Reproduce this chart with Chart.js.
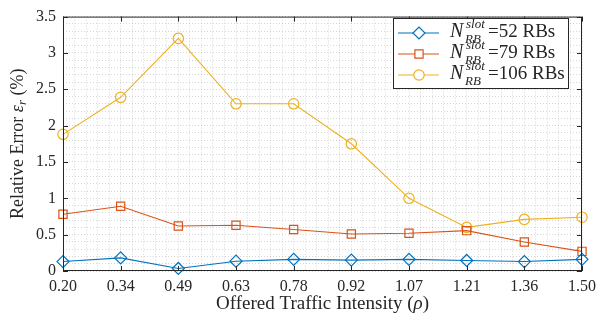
<!DOCTYPE html>
<html>
<head>
<meta charset="utf-8">
<script src="https://cdn.jsdelivr.net/npm/chart.js@4"></script>
<style>
  body { margin: 0; background: #fff; }
  #wrap { width: 610px; height: 323px; }
</style>
</head>
<body>
<div id="wrap"><canvas id="errChart" width="610" height="323"></canvas></div>
<script>
// tick labels for offered traffic intensity (rho)
var rhoLabels = ["0.20", "0.34", "0.49", "0.63", "0.78", "0.92", "1.07", "1.21", "1.36", "1.50"];

// relative error (%) per bandwidth config
var err52 = [0.13, 0.18, 0.035, 0.135, 0.16, 0.15, 0.16, 0.145, 0.13, 0.16];
var err79 = [0.78, 0.89, 0.62, 0.63, 0.57, 0.51, 0.52, 0.555, 0.40, 0.27];
var err106 = [1.88, 2.39, 3.20, 2.30, 2.30, 1.75, 1.00, 0.60, 0.71, 0.74];

var seriesNames = ["52", "79", "106"];
var FONT = "'Liberation Serif', 'DejaVu Serif', serif";
var axisColor = "#262626";

function toPoints(arr) {
  return arr.map(function (v, i) { return { x: i, y: v }; });
}

var blue = "#0072BD", orange = "#D95319", yellow = "#EDB120";

var data = {
  datasets: [
    {
      label: "52",
      data: toPoints(err52),
      borderColor: blue,
      backgroundColor: "rgba(0,0,0,0)",
      pointStyle: "rectRot",
      pointRadius: 6,
      pointBorderWidth: 1.2,
      borderWidth: 1.1,
    },
    {
      label: "79",
      data: toPoints(err79),
      borderColor: orange,
      backgroundColor: "rgba(0,0,0,0)",
      pointStyle: "rect",
      pointRadius: 5.8,
      pointBorderWidth: 1.2,
      borderWidth: 1.1,
    },
    {
      label: "106",
      data: toPoints(err106),
      borderColor: yellow,
      backgroundColor: "rgba(0,0,0,0)",
      pointStyle: "circle",
      pointRadius: 5.2,
      pointBorderWidth: 1.2,
      borderWidth: 1.1,
    },
  ],
};

// frame, inward ticks, axis titles and the legend (needs sub/superscripts)
var decorPlugin = {
  id: "decor",
  afterDatasetsDraw: function (chart) {
    var ctx = chart.ctx, a = chart.chartArea;
    var xs = chart.scales.x, ys = chart.scales.y;
    ctx.save();
    ctx.strokeStyle = axisColor;
    ctx.lineWidth = 1;
    ctx.strokeRect(a.left + 0.5, a.top + 0.5, a.right - a.left - 1, a.bottom - a.top - 1);
    ctx.beginPath();
    for (var i = 0; i < rhoLabels.length; i++) {
      var px = Math.round(xs.getPixelForValue(i)) + 0.5;
      ctx.moveTo(px, a.bottom); ctx.lineTo(px, a.bottom - 5);
      ctx.moveTo(px, a.top); ctx.lineTo(px, a.top + 5);
    }
    for (var v = 0; v <= 3.5; v += 0.5) {
      var py = Math.round(ys.getPixelForValue(v)) + 0.5;
      ctx.moveTo(a.left, py); ctx.lineTo(a.left + 5, py);
      ctx.moveTo(a.right, py); ctx.lineTo(a.right - 5, py);
    }
    ctx.stroke();
    ctx.restore();
  },
  afterDraw: function (chart) {
    var ctx = chart.ctx, a = chart.chartArea;
    ctx.save();
    ctx.fillStyle = "#262626";
    ctx.textBaseline = "alphabetic";

    // x title
    var xparts = [
      { t: "Offered Traffic Intensity (", f: "19px " + FONT },
      { t: "\u03C1", f: "italic 19px " + FONT },
      { t: ")", f: "19px " + FONT },
    ];
    var xw = 0;
    xparts.forEach(function (p) { ctx.font = p.f; p.w = ctx.measureText(p.t).width; xw += p.w; });
    var xx = (a.left + a.right) / 2 - xw / 2;
    ctx.textAlign = "left";
    xparts.forEach(function (p) { ctx.font = p.f; ctx.fillText(p.t, xx, 309); xx += p.w; });

    // y title with subscript
    ctx.translate(23, (a.top + a.bottom) / 2);
    ctx.rotate(-Math.PI / 2);
    var parts = [
      { t: "Relative Error ", f: "18px " + FONT, dy: 0 },
      { t: "\u03B5", f: "italic 18px " + FONT, dy: 0 },
      { t: "r", f: "italic 13px " + FONT, dy: 3 },
      { t: " (%)", f: "18px " + FONT, dy: 0 },
    ];
    var total = 0;
    parts.forEach(function (p) { ctx.font = p.f; p.w = ctx.measureText(p.t).width; total += p.w; });
    var cx = -total / 2;
    parts.forEach(function (p) { ctx.font = p.f; ctx.fillText(p.t, cx, p.dy); cx += p.w; });
    ctx.restore();

    // legend
    ctx.save();
    var bx = 393, by = 18, bw = 176, bh = 71;
    ctx.fillStyle = "#fff";
    ctx.fillRect(bx, by, bw, bh);
    ctx.strokeStyle = axisColor;
    ctx.lineWidth = 1;
    ctx.strokeRect(bx + 0.5, by + 0.5, bw - 1, bh - 1);
    var rows = [33, 54, 75];
    chart.data.datasets.forEach(function (ds, k) {
      var y = rows[k];
      ctx.strokeStyle = ds.borderColor;
      ctx.lineWidth = 1.1;
      ctx.beginPath();
      ctx.moveTo(398, y); ctx.lineTo(439, y);
      ctx.stroke();
      ctx.fillStyle = "#fff";
      ctx.lineWidth = 1.2;
      Chart.helpers.drawPoint(ctx, { pointStyle: ds.pointStyle, radius: ds.pointRadius, borderWidth: 1.2, rotation: 0 }, 419, y);
      ctx.fillStyle = "#262626";
      ctx.textAlign = "left";
      var tx = 450, base = y + 3.5;
      ctx.font = "italic 20px " + FONT;
      ctx.fillText("N", tx, base);
      ctx.font = "italic 13px " + FONT;
      ctx.fillText("slot", tx + 16, base - 9);
      ctx.fillText("RB", tx + 15, base + 6);
      ctx.font = "19px " + FONT;
      ctx.fillText("=" + seriesNames[k] + " RBs", tx + 38, base);
    });
    ctx.restore();
  },
};

var config = {
  type: "line",
  data: data,
  options: {
    responsive: false,
    devicePixelRatio: 1,
    animation: false,
    layout: { padding: { top: 6, right: 28, left: 0, bottom: 0 } },
    plugins: {
      legend: { display: false },
      tooltip: { enabled: false },
    },
    elements: { line: { tension: 0 } },
    datasets: { line: { clip: false } },
    scales: {
      x: {
        type: "linear",
        min: 0,
        max: rhoLabels.length - 1,
        afterFit: function (s) { s.height = 52; },
        afterBuildTicks: function (s) {
          var t = [];
          for (var i = 0; i <= (rhoLabels.length - 1) * 5; i++) t.push({ value: i / 5 });
          s.ticks = t;
        },
        ticks: {
          autoSkip: false,
          maxRotation: 0,
          padding: 6,
          color: "#262626",
          font: { family: FONT, size: 16 },
          callback: function (v) {
            var r = Math.round(v);
            return Math.abs(v - r) < 1e-6 ? rhoLabels[r] : "";
          },
        },
        grid: { color: "rgba(0,0,0,0.16)", lineWidth: 1, drawTicks: false },
        border: { display: false, dash: [1, 2] },
      },
      y: {
        min: 0,
        max: 3.5,
        afterFit: function (s) { s.width = 63; },
        afterBuildTicks: function (s) {
          var t = [];
          for (var i = 0; i <= 35; i++) t.push({ value: i / 10 });
          s.ticks = t;
        },
        ticks: {
          autoSkip: false,
          padding: 7,
          color: "#262626",
          font: { family: FONT, size: 16 },
          callback: function (v) {
            var k = Math.round(v * 10);
            if (k % 5 !== 0) return "";
            return String(k / 10);
          },
        },
        grid: { color: "rgba(0,0,0,0.16)", lineWidth: 1, drawTicks: false },
        border: { display: false, dash: [1, 2] },
      },
    },
  },
  plugins: [decorPlugin],
};

new Chart(document.getElementById("errChart").getContext("2d"), config);
</script>
</body>
</html>
